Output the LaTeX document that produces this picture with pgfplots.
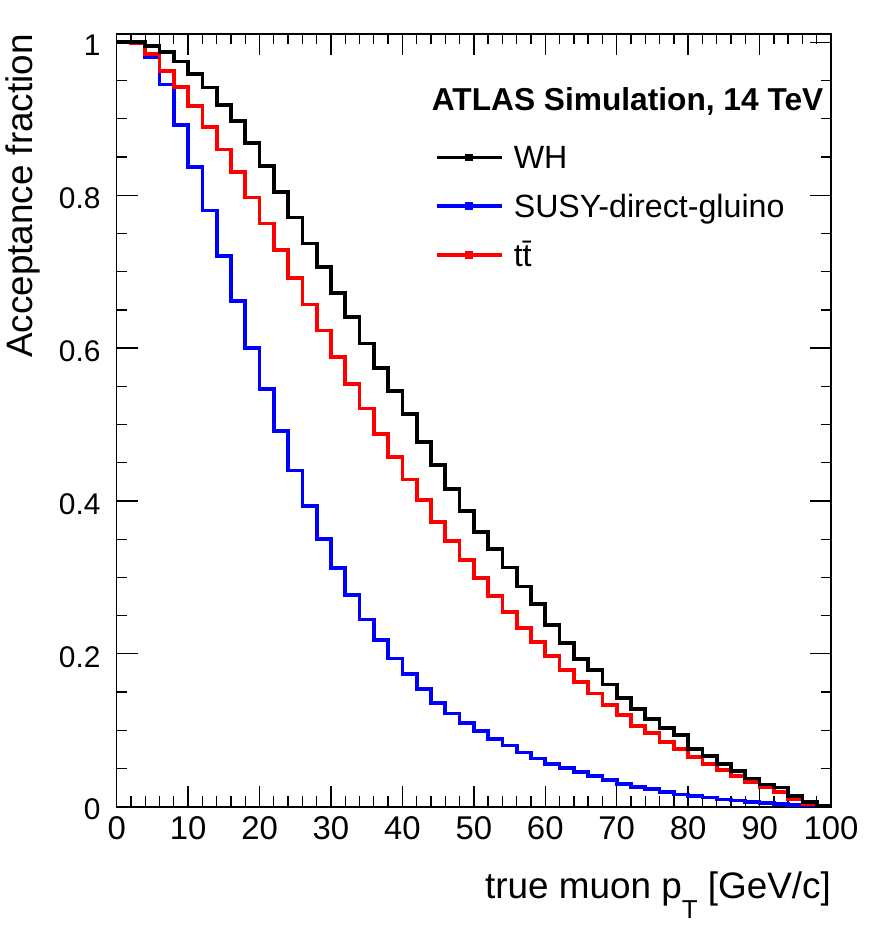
\documentclass[border=0pt]{standalone}
\usepackage{fontspec}
\setmainfont{Liberation Sans}
\usepackage{pgfplots}
\usepackage{pgfplotstable}
\pgfplotsset{compat=1.18}

\pgfplotstableread{
x wh susy tt
0 1.000 1.000 1.000
2 1.000 0.999 0.999
4 0.995 0.981 0.985
6 0.987 0.945 0.963
8 0.975 0.892 0.942
10 0.959 0.837 0.917
12 0.941 0.780 0.889
14 0.918 0.721 0.860
16 0.897 0.662 0.830
18 0.868 0.600 0.797
20 0.838 0.546 0.763
22 0.804 0.492 0.728
24 0.771 0.440 0.692
26 0.737 0.393 0.657
28 0.706 0.350 0.623
30 0.672 0.312 0.588
32 0.641 0.277 0.553
34 0.606 0.245 0.521
36 0.574 0.218 0.488
38 0.544 0.194 0.458
40 0.514 0.174 0.428
42 0.477 0.154 0.401
44 0.447 0.136 0.373
46 0.416 0.122 0.348
48 0.387 0.110 0.323
50 0.359 0.099 0.299
52 0.337 0.089 0.276
54 0.313 0.080 0.255
56 0.288 0.071 0.234
58 0.265 0.063 0.215
60 0.238 0.056 0.197
62 0.214 0.051 0.179
64 0.193 0.045 0.163
66 0.179 0.040 0.148
68 0.160 0.035 0.133
70 0.142 0.030 0.120
72 0.128 0.026 0.106
74 0.115 0.023 0.096
76 0.103 0.019 0.085
78 0.094 0.016 0.075
80 0.076 0.014 0.065
82 0.066 0.012 0.056
84 0.056 0.0095 0.048
86 0.047 0.008 0.040
88 0.037 0.0065 0.032
90 0.029 0.005 0.025
92 0.025 0.0037 0.019
94 0.014 0.0025 0.010
96 0.0065 0.0017 0.004
98 0.001 0.001 0.001
100 0.001 0.001 0.001
}\data

\begin{document}
\begin{tikzpicture}
\begin{axis}[
  at={(0,0)}, anchor=south west,
  scale only axis, width=714.3bp, height=772.7bp,
  xmin=0, xmax=100, ymin=0, ymax=1.011,
  axis line style={line width=1.6bp},
  xtick={0,10,...,100}, minor x tick num=4,
  ytick={0,0.2,0.4,0.6,0.8,1}, minor y tick num=3,
  tick align=inside,
  major tick length=21bp, minor tick length=10.5bp,
  every tick/.style={black, line width=1.3bp},
  /pgf/number format/assume math mode=true,
  xticklabel style={font=\fontsize{33}{33}\selectfont, anchor=north, inner sep=0pt, yshift=-10bp},
  yticklabel style={font=\fontsize{30}{30}\selectfont, anchor=east, inner sep=0pt, xshift=-16bp, yshift=-3bp},
  xlabel={true muon p\raisebox{-20bp}{\fontsize{26}{26}\selectfont T} [GeV/c]},
  xlabel style={font=\fontsize{37}{37}\selectfont, at={(rel axis cs:1,0)}, anchor=base east, inner sep=0pt, yshift=-91.3bp},
  ylabel={Acceptance fraction},
  ylabel style={font=\fontsize{37}{37}\selectfont, at={([xshift=-83.7bp]rel axis cs:0,1)}, anchor=base east, inner sep=0pt},
  title={ATLAS Simulation, 14 TeV},
  title style={font=\fontsize{31.8}{31.8}\selectfont\bfseries, at={(rel axis cs:0.441,0.893)}, anchor=base west, inner sep=0pt},
  legend style={at={(rel axis cs:0.4456,0.8547)}, anchor=north west, draw=none, fill=none,
    inner sep=0pt, outer sep=0pt, row sep=26.3bp, column sep=10bp,
    font=\fontsize{32.3}{32.3}\selectfont,
    nodes={inner sep=0pt, text height=22.5bp, text depth=0bp}},
  legend cell align=left,
  legend image code/.code={\draw[mark repeat=2,mark phase=2,#1,mark=square*,mark size=2bp,mark options={solid}] plot coordinates {(0bp,0bp) (32.5bp,0bp) (65bp,0bp)};},
]
\addplot[const plot, black, line width=3.8bp] table[x=x, y=wh] {\data};
\addlegendentry{WH}
\addplot[const plot, blue, line width=3.8bp] table[x=x, y=susy] {\data};
\addlegendentry{SUSY-direct-gluino}
\addplot[const plot, red, line width=3.8bp] table[x=x, y=tt] {\data};
\addlegendentry{t\={t}}
\addplot[const plot, black, line width=3.8bp, forget plot] table[x=x, y=wh] {\data};
\end{axis}
\pgfresetboundingbox
\useasboundingbox (-116.7bp,-124.3bp) rectangle (753.3bp,806.7bp);
\end{tikzpicture}
\end{document}
